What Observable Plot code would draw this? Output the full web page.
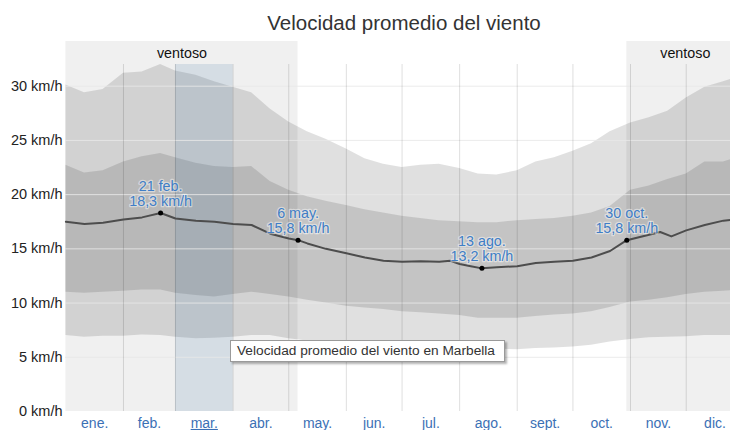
<!DOCTYPE html>
<html><head><meta charset="utf-8">
<script src="https://cdn.jsdelivr.net/npm/d3@7"></script>
<script src="https://cdn.jsdelivr.net/npm/@observablehq/plot@0.6"></script>
<style>
html,body{margin:0;padding:0;background:#fff;overflow:hidden;}
#wrap{position:relative;width:730px;height:430px;overflow:hidden;font-family:"Liberation Sans",Arial,sans-serif;}
#title{height:36px;position:relative;}
#title span{position:absolute;left:0;width:808px;text-align:center;top:11px;font-size:20.5px;color:#333;line-height:1.15;white-space:nowrap;}
#tip{position:absolute;left:230px;top:340px;width:275px;height:22px;box-sizing:border-box;border:1px solid #9a9a9a;background:#fff;box-shadow:2px 2px 2px rgba(0,0,0,0.3);font-size:13.7px;line-height:20px;padding-left:6px;color:#333;white-space:nowrap;}
</style></head>
<body>
<div id="wrap">
<div id="title"><span>Velocidad promedio del viento</span></div>
<div id="chart"></div>
<div id="tip">Velocidad promedio del viento en Marbella</div>
</div>
<script>
const monthNames = ["ene.","feb.","mar.","abr.","may.","jun.","jul.","ago.","sept.","oct.","nov.","dic."];
const monthStarts = [0,31,59,90,120,151,181,212,243,273,304,334,365];
const yTicks = [0,5,10,15,20,25,30];

const bandDays = [0,10,20,31,41,51,59,70,80,90,100,110,120,130,140,151,161,171,181,191,201,212,222,232,243,253,263,273,283,293,304,314,324,334,344,354,365];
const p90 = [30.1,29.4,29.7,31.2,31.3,32.0,31.4,31.0,30.4,29.9,29.4,27.9,26.7,25.8,25.1,24.2,23.3,22.8,22.5,22.7,22.8,22.4,21.9,21.8,22.2,23.0,23.4,24.0,24.7,25.8,26.6,27.1,27.7,28.9,29.9,30.4,31.0];
const p75 = [22.7,22.0,22.2,23.0,23.5,23.8,23.4,22.9,22.6,22.5,22.6,21.2,20.4,19.8,19.4,19.0,18.6,18.3,18.0,17.8,17.6,17.5,17.4,17.4,17.6,17.7,17.8,18.0,18.3,18.9,20.4,20.8,21.4,21.9,23.0,23.0,23.6];
const p25 = [11.0,10.9,11.0,11.1,11.2,11.2,10.9,10.7,10.55,10.8,11.0,10.8,10.55,10.25,10.0,9.7,9.55,9.4,9.2,9.1,9.0,8.85,8.6,8.6,8.6,8.75,8.9,9.0,9.2,9.6,10.1,10.25,10.5,10.8,11.0,11.1,11.2];
const p10 = [7.0,6.85,6.95,6.95,7.05,7.0,6.85,6.7,6.75,6.85,7.0,7.0,6.7,6.5,6.4,6.3,6.2,6.1,6.05,6.0,5.95,5.9,5.8,5.75,5.7,5.8,5.85,5.95,6.1,6.4,6.65,6.8,6.85,6.9,7.0,7.0,7.05];

const meanDays = [0,10,20,31,41,51,59,70,80,90,100,110,120,125,130,140,151,161,171,181,191,201,207,212,218,224,232,243,253,263,273,283,293,302,314,320,326,334,344,354,365];
const meanVals = [17.5,17.3,17.4,17.7,17.9,18.3,17.8,17.6,17.5,17.3,17.2,16.4,15.95,15.8,15.5,15.0,14.6,14.2,13.9,13.8,13.85,13.8,13.9,13.6,13.4,13.2,13.3,13.4,13.7,13.8,13.9,14.2,14.8,15.8,16.3,16.55,16.15,16.7,17.2,17.6,17.8];

const hlDays = [51,125,224,302];
const hlVals = [18.3,15.8,13.2,15.8];
const hlDates = ["21 feb.","6 may.","13 ago.","30 oct."];

const windyStart = [0,302];
const windyEnd = [125,365];
const windyLabel = "ventoso";
const highlightMonth = 2;

const bands = bandDays.map((d,i)=>({day:d,p10:p10[i],p25:p25[i],p75:p75[i],p90:p90[i]}));
const mean = meanDays.map((d,i)=>({day:d,v:meanVals[i]}));
const hl = hlDays.map((d,i)=>({day:d,v:hlVals[i],date:hlDates[i]}));
const windy = windyStart.map((s,i)=>({start:s,end:windyEnd[i]}));
const monthMids = monthStarts.slice(0,12).map((s,i)=>(s+monthStarts[i+1])/2);
const fmt = v => v.toFixed(1).replace(".",",");
const yMax = 32;

const chart = Plot.plot({
  width: 730, height: 394,
  marginTop: 28, marginBottom: 19, marginLeft: 65, marginRight: 0,
  x: {domain:[0,365], range:[65.4,743.3]},
  y: {domain:[0,yMax]},
  style: {fontFamily:"Liberation Sans, Arial, sans-serif", background:"transparent", overflow:"hidden"},
  marks: [
    Plot.rect(windy, {x1:"start", x2:"end", y1:0, y2:yMax, fill:"#000", fillOpacity:0.06, insetTop:-23}),
    Plot.areaY(bands, {x:"day", y1:"p10", y2:"p90", fill:"#000", fillOpacity:0.12}),
    Plot.areaY(bands, {x:"day", y1:"p25", y2:"p75", fill:"#000", fillOpacity:0.12}),
    Plot.rect([0], {x1:monthStarts[highlightMonth], x2:monthStarts[highlightMonth+1], y1:0, y2:yMax, fill:"#4a7aaa", fillOpacity:0.16}),
    Plot.ruleY(yTicks.slice(1), {stroke:"#e8e8e8", strokeOpacity:0.85}),
    Plot.ruleX(monthStarts.slice(1,12), {y1:0, y2:yMax, stroke:"#000", strokeOpacity:0.13}),
    Plot.line(mean, {x:"day", y:"v", stroke:"#4d4d4d", strokeWidth:2}),
    Plot.dot(hl, {x:"day", y:"v", r:2.5, fill:"#000"}),
    Plot.text(hl, {x:"day", y:"v", text:d=>d.date+"\n"+fmt(d.v)+" km/h", lineAnchor:"bottom", dy:-7, lineHeight:1.08, fontSize:14.3, fill:"#3f7ec6", stroke:"white", strokeOpacity:0.45, strokeWidth:2.5}),
    Plot.text(windy, {x:d=>(d.start+d.end)/2, y:yMax, dy:-11, text:()=>windyLabel, fontSize:14.3, fill:"#111"}),
    Plot.axisY(yTicks, {tickSize:0, tickPadding:3, tickFormat:d=>d+" km/h", fontSize:14.5, fill:"#222", label:null}),
    Plot.axisX(monthMids, {tickSize:0, tickPadding:6.5, tickFormat:d=>monthNames[monthMids.indexOf(d)], fontSize:14, fill:"#3b70b5", label:null})
  ]
});
document.getElementById("chart").appendChild(chart);
d3.select(chart).selectAll("text").filter(function(){return this.textContent===monthNames[highlightMonth];}).style("text-decoration","underline");
</script>
</body></html>
